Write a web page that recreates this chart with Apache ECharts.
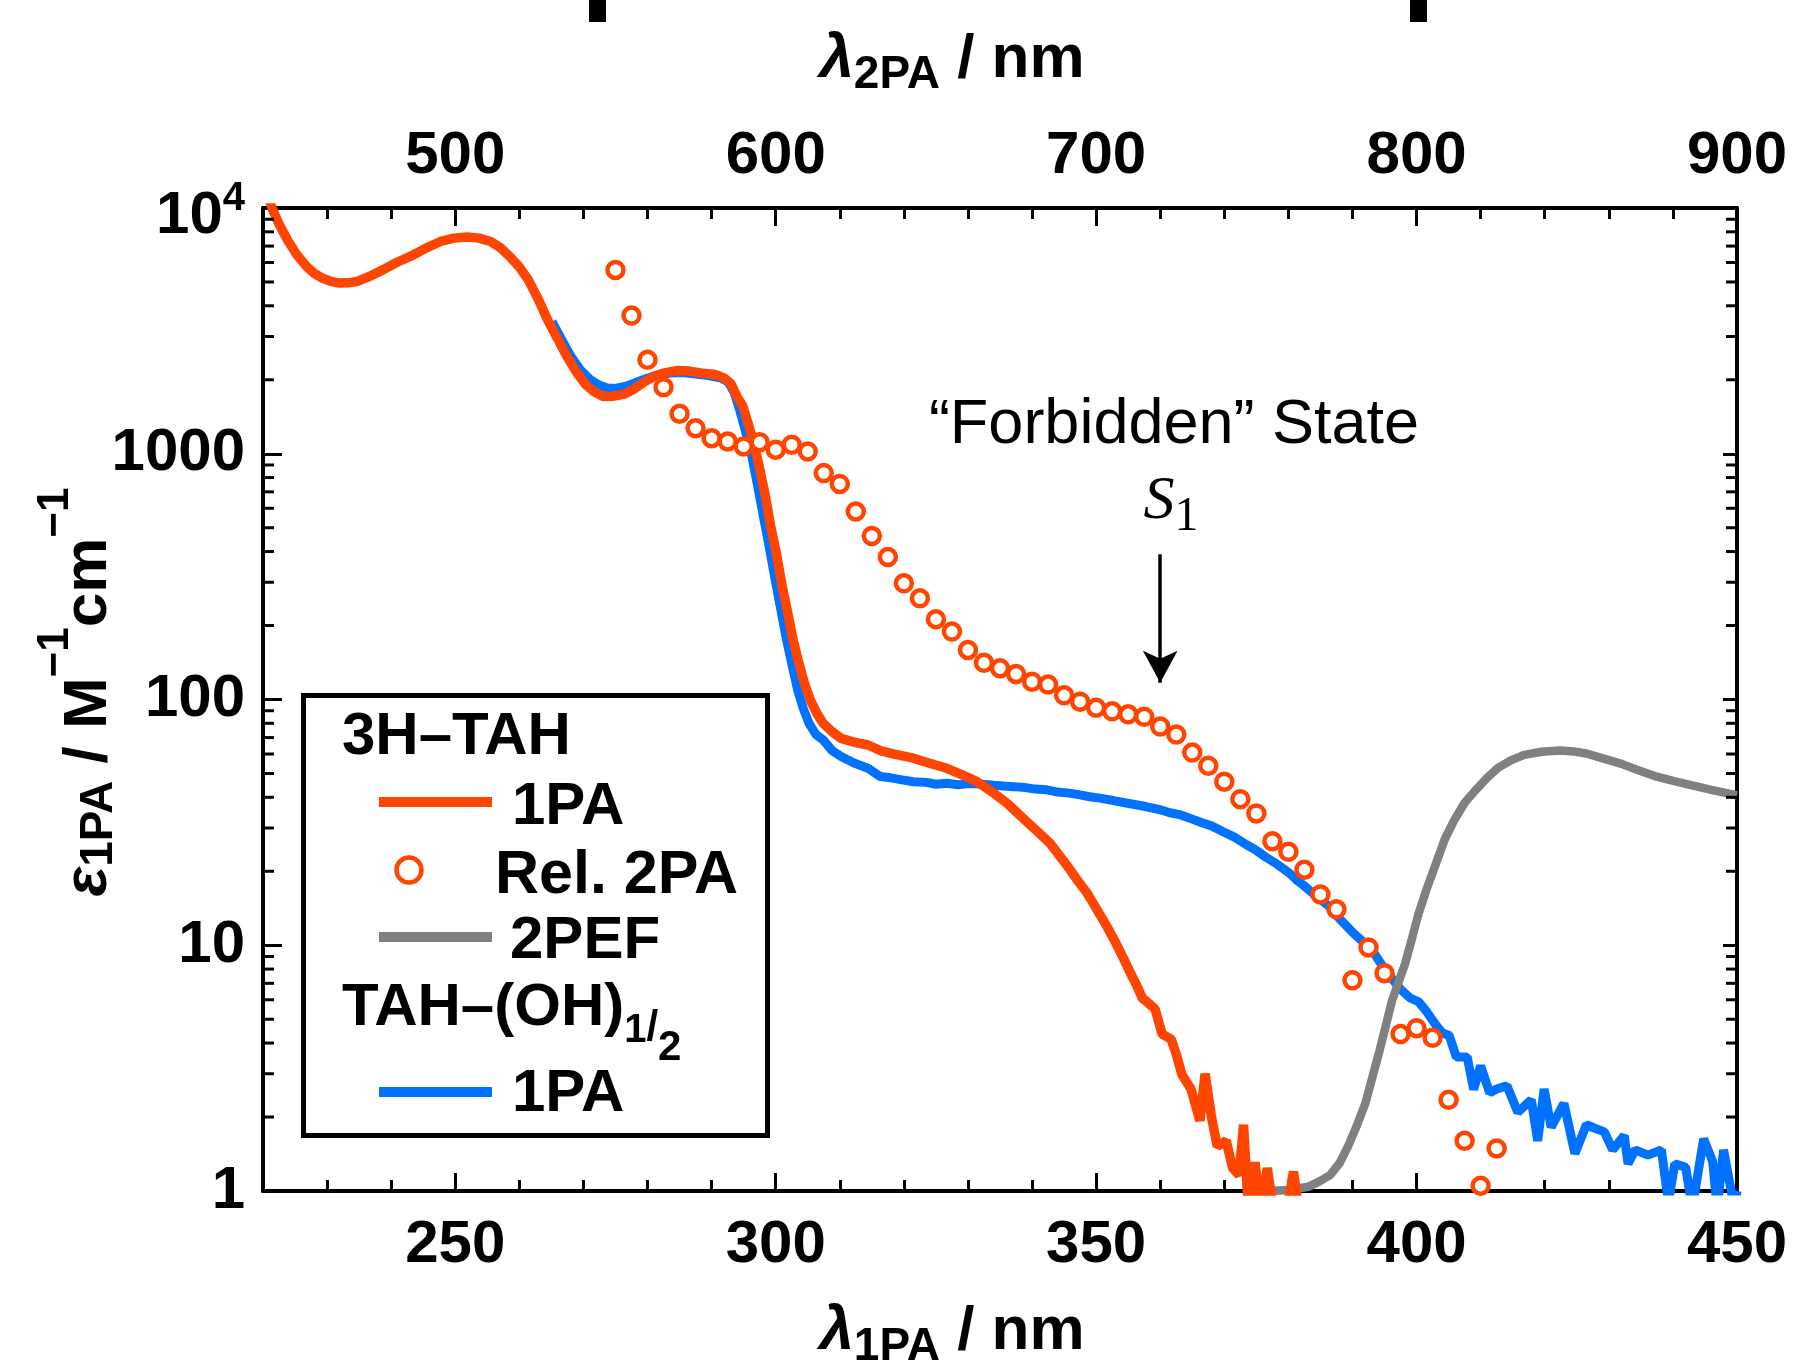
<!DOCTYPE html>
<html><head><meta charset="utf-8">
<script src="https://cdn.jsdelivr.net/npm/echarts@6/dist/echarts.min.js"></script>
<style>html,body{margin:0;padding:0;background:#fff}#c{width:1794px;height:1367px}</style>
</head><body><div id="c"></div>
<script>
// ---- data (x in 1PA wavelength, nm) ----
const red1PA = [
[221.0,10800],[221.4,10000],[222.5,8600],[223.8,7430],[225.2,6500],[226.8,5780],[228.0,5420],[229.2,5190],
[230.5,5040],[231.9,4950],[233.2,4960],[234.6,5020],[236.5,5250],[238.7,5600],[241.0,6030],[243.5,6450],
[245.5,6880],[247.7,7310],[249.8,7540],[251.9,7620],[253.7,7540],[255.5,7310],[257.0,6900],[258.5,6350],
[260.0,5750],[261.4,5100],[262.9,4280],[264.4,3510],[265.9,2960],[267.4,2490],[268.9,2150],[270.4,1906],
[271.8,1780],[273.1,1710],[274.7,1715],[276.4,1750],[278.0,1840],[279.5,1960],[281.0,2060],[282.5,2130],
[284.5,2180],[286.5,2170],[288.3,2130],[290.5,2100],[292.0,2030],[293.0,1930],[294.0,1700],[294.9,1556],
[295.8,1300],[296.6,1104],[297.5,870],[298.4,670],[299.2,510],[300.1,394],[301.0,290],[301.9,224],
[302.7,175],[303.6,141],[304.5,116],[305.4,99.6],[306.4,88],[307.4,80],[308.8,74],[310.2,69.5],
[312.3,67],[314.4,65.3],[316.3,62],[318.5,60],[321.5,57.7],[324.0,55],[326.7,52.5],[329.0,49.5],
[331.4,46.3],[333.8,42],[336.1,37.8],[337.9,34.2],[339.7,30.9],[341.3,28.3],[342.8,26],[344.1,23.5],
[345.4,21.2],[347.0,18.5],[348.6,16.3],[350.1,14],[351.7,11.9],[353.0,10.3],[354.3,8.8],[355.5,7.57],
[356.4,6.8],[357.2,6.1],[358.2,5.8],[359.2,5.5],[360.3,4.35],[361.7,4.15],[362.5,3.6],[363.4,2.97],
[364.8,2.6],[366.2,1.93],[367.0,3.0],[368.0,2.0],[368.9,1.52],[370.3,1.6],[371.3,1.24],[372.3,1.16],
[373.0,1.86],[373.8,0.8],[374.8,1.31],[375.7,0.8],[376.7,1.24],[377.8,0.8],[379.0,0.85],[380.0,0.9],
[380.8,1.2],[381.7,0.8]
];
const blue1PA = [
[265.1,3450],[266.5,2950],[268.0,2500],[269.5,2200],[271.0,2010],[272.5,1900],[273.7,1850],[275.0,1845],
[276.5,1880],[278.0,1940],[279.7,2020],[281.5,2090],[283.5,2130],[285.5,2140],[287.5,2110],[289.5,2080],
[291.5,2030],[292.6,1960],[293.5,1780],[294.4,1500],[295.3,1230],[296.2,1000],[297.1,760],[298.0,570],
[298.9,430],[299.8,320],[300.7,240],[301.6,180],[302.5,140],[303.4,110],[304.3,92],[305.2,80],
[306.3,72],[307.4,68.5],[308.8,62],[310.2,58.6],[312.3,55],[314.4,52.5],[316.3,48.6],[318.0,48.0],
[319.5,47.2],[321.5,46.3],[323.5,46.0],[325.0,45.2],[326.7,45.6],[328.5,45.0],[330.0,45.5],[331.9,45.3],
[334.0,44.8],[335.5,44.5],[337.1,44.2],[339.0,43.8],[340.5,43.2],[342.3,42.9],[344.0,42.0],[345.8,41.6],
[347.5,40.9],[349.0,40.2],[350.6,39.7],[352.7,38.8],[354.5,38.0],[356.0,37.4],[357.9,36.6],[360.0,35.6],
[361.5,34.6],[363.2,33.9],[365.0,32.6],[366.5,31.5],[368.0,30.6],[369.9,28.9],[371.5,27.6],[373.4,25.7],
[375.0,24.3],[376.5,22.8],[378.2,21.4],[380.0,19.8],[381.2,18.5],[382.4,17.5],[384.0,16.1],[385.2,15.2],
[386.5,14.3],[388.0,12.8],[390.0,11.3],[391.5,10.4],[392.5,9.8],[393.4,9.25],[395.0,8.0],[396.2,7.3],
[397.5,6.62],[399.0,6.1],[400.3,5.89],[401.5,5.4],[403.0,4.74],[404.0,4.4],[405.1,4.29],[406.2,3.51],
[407.9,3.51],[408.9,2.59],[410.0,3.23],[411.4,2.51],[412.5,2.6],[414.1,2.68],[415.8,2.09],[417.9,2.35],
[418.9,1.6],[419.9,2.6],[421.0,1.82],[423.0,2.27],[424.7,1.42],[426.5,1.86],[427.8,1.8],[429.3,1.74],
[430.6,1.47],[432.4,1.68],[433.0,1.29],[434.1,1.47],[436.1,1.4],[438.2,1.47],[439.3,0.9],[440.3,1.29],
[442.0,1.25],[443.0,0.85],[444.8,1.63],[446.2,1.32],[446.9,0.85],[447.9,1.47],[449.6,0.85],[450.0,1.0]
];
const gray2PEF = [
[377.2,1.0],[380.0,1.01],[383.1,1.04],[385.0,1.1],[386.5,1.16],[388.0,1.3],[389.3,1.52],[390.7,1.85],
[392.0,2.27],[393.1,2.9],[394.1,3.62],[395.2,4.7],[396.2,5.98],[397.2,7.1],[398.2,8.4],[399.3,10.7],
[400.3,13.4],[401.6,17.0],[403.0,21.4],[404.4,27.0],[405.8,32],[407.5,38],[409.3,43],[411.0,48],
[412.7,52.7],[414.7,56.5],[416.8,59.5],[419.5,61.3],[422.4,62],[424.5,61.5],[426.5,60.3],[429.2,57.5],
[432.0,54.7],[434.8,51.3],[437.5,48.5],[440.2,46.5],[443.0,44.7],[446.0,42.9],[449.5,41],[450.0,40.8]
];
const rel2PA_x = [275,277.5,280,282.5,285,287.5,290,292.5,295,297.5,300,302.5,305,307.5,310,312.5,315,317.5,
320,322.5,325,327.5,330,332.5,335,337.5,340,342.5,345,347.5,350,352.5,355,357.5,360,362.5,365,367.5,
370,372.5,375,377.5,380,382.5,385,387.5,390,392.5,395,397.5,400,402.5,405,407.5,410,412.5];
const rel2PA_y = [5600,3650,2410,1866,1455,1270,1156,1122,1070,1115,1038,1087,1021,834,754,582,463,380,
297,258,212,189,159,141,134,127,118,115,104,98,92.6,89.5,87,85,77.6,72,60.8,53.7,
46.3,39.3,34.4,26.5,24,20.3,16.1,14,7.2,9.8,7.7,4.35,4.6,4.2,2.35,1.6,1.05,1.49];
const bottomLabels = [250,300,350,400,450];
const bottomMinor = [230,240,260,270,280,290,310,320,330,340,360,370,380,390,410,420,430,440];
const topLabels = [500,600,700,800,900];
const topMinor = [460,480,520,540,560,580,620,640,660,680,720,740,760,780,820,840,860,880];
const yMinor = [2,3,4,5,6,7,8,9,20,30,40,50,60,70,80,90,200,300,400,500,600,700,800,900,2000,3000,4000,5000,6000,7000,8000,9000];
const arrowFrom = [360, 390], arrowTo = [360, 117];

const FF = '"Liberation Sans", Arial, sans-serif';
const RED = '#FF4500', BLUE = '#0072FF', GRAY = '#808080';
const chart = echarts.init(document.getElementById('c'), null, {renderer: 'canvas'});

const lblStyle = {color:'#000', fontSize:60, fontWeight:'bold', fontFamily:FF};
function xAx(extra){ return Object.assign({type:'value', splitLine:{show:false}, axisLine:{show:false}}, extra); }
// rich token helper: top aligned, vertical offset through top padding
function tk(size, pt, extra){
  return Object.assign({fontSize:size, fontWeight:'bold', fontFamily:FF, verticalAlign:'top', padding:[pt,0,0,0], color:'#000', fill:'#000'}, extra||{});
}

const option = {
  animation:false,
  backgroundColor:'#fff',
  grid:{left:263, right:57, top:208, bottom:176, show:false},
  xAxis:[
    xAx({min:220, max:450, position:'bottom',
      axisLine:{show:true, onZero:false, lineStyle:{color:'#000', width:4}},
      axisTick:{show:true, inside:true, length:18, lineStyle:{color:'#000', width:3}, customValues:bottomLabels},
      axisLabel:Object.assign({margin:24, customValues:bottomLabels, showMaxLabel:true}, lblStyle)}),
    xAx({min:220, max:450, position:'bottom',
      axisTick:{show:true, inside:true, length:11, lineStyle:{color:'#000', width:3}, customValues:bottomMinor},
      axisLabel:{show:false}}),
    xAx({min:440, max:900, position:'top',
      axisLine:{show:true, onZero:false, lineStyle:{color:'#000', width:4}},
      axisTick:{show:true, inside:true, length:18, lineStyle:{color:'#000', width:3}, customValues:topLabels},
      axisLabel:Object.assign({margin:22, customValues:topLabels, showMaxLabel:true}, lblStyle)}),
    xAx({min:440, max:900, position:'top',
      axisTick:{show:true, inside:true, length:11, lineStyle:{color:'#000', width:3}, customValues:topMinor},
      axisLabel:{show:false}})
  ],
  yAxis:[
    {type:'log', logBase:10, min:1, max:10000, position:'left', splitLine:{show:false},
      axisLine:{show:true, onZero:false, lineStyle:{color:'#000', width:4}},
      axisTick:{show:true, inside:true, length:19, lineStyle:{color:'#000', width:3}},
      axisLabel:{margin:18, formatter:v => v >= 9999 ? '{c|10}{p|4}' : '{b|' + Math.round(v) + '}',
        rich:{b:tk(60, 0), c:tk(60, 16), p:tk(40, 9)}}},
    {type:'log', logBase:10, min:1, max:10000, position:'right', splitLine:{show:false},
      axisLine:{show:true, onZero:false, lineStyle:{color:'#000', width:4}},
      axisTick:{show:true, inside:true, length:14, lineStyle:{color:'#000', width:3}},
      axisLabel:{show:false}}
  ],
  series:[
    {type:'custom', name:'minorY', silent:true, xAxisIndex:0, yAxisIndex:0, z:10,
      data:yMinor.map(v => [220, v]),
      renderItem:(params, api) => {
        const v = api.value(1);
        const pl = api.coord([220, v]);
        const pr = api.coord([450, v]);
        return {type:'group', children:[
          {type:'line', shape:{x1:pl[0], y1:pl[1], x2:pl[0]+11, y2:pl[1]}, style:{stroke:'#000', lineWidth:3}},
          {type:'line', shape:{x1:pr[0]-11, y1:pr[1], x2:pr[0], y2:pr[1]}, style:{stroke:'#000', lineWidth:3}}
        ]};
      }},
    {type:'line', name:'TAH-(OH) 1PA', data:blue1PA, xAxisIndex:0, yAxisIndex:0, showSymbol:false, clip:true,
      lineStyle:{color:BLUE, width:9}, z:2},
    {type:'line', name:'2PEF', data:gray2PEF, xAxisIndex:0, yAxisIndex:0, showSymbol:false, clip:true,
      lineStyle:{color:GRAY, width:8.5}, z:3},
    {type:'line', name:'3H-TAH 1PA', data:red1PA, xAxisIndex:0, yAxisIndex:0, showSymbol:false, clip:true,
      lineStyle:{color:RED, width:9.5}, z:4},
    {type:'scatter', name:'Rel. 2PA', data:rel2PA_x.map((x,i) => [x, rel2PA_y[i]]), xAxisIndex:0, yAxisIndex:0,
      symbol:'circle', symbolSize:16, itemStyle:{color:'#fff', borderColor:RED, borderWidth:4.5, opacity:1}, z:5, clip:true,
      markLine:{silent:true, symbol:['none','arrow'], symbolSize:[26,32], label:{show:false},
        lineStyle:{color:'#000', width:3.5, type:'solid'},
        data:[[{coord:arrowFrom}, {coord:arrowTo}]]}}
  ],
  graphic:[
    // cut-off bars from panel above
    {type:'rect', shape:{x:589, y:0, width:17, height:22}, style:{fill:'#000'}},
    {type:'rect', shape:{x:1410, y:0, width:17, height:22}, style:{fill:'#000'}},
    // axis titles
    {type:'text', x:952, y:29, style:{text:'{l|λ}{s|2PA}{n| / nm}', textAlign:'center', textVerticalAlign:'top',
      rich:{l:tk(62, 0, {fontStyle:'italic'}), s:tk(46, 23), n:tk(62, 0)}}},
    {type:'text', x:952, y:1301, style:{text:'{l|λ}{s|1PA}{n| / nm}', textAlign:'center', textVerticalAlign:'top',
      rich:{l:tk(62, 0, {fontStyle:'italic'}), s:tk(46, 23), n:tk(62, 0)}}},
    {type:'text', x:34, y:692, rotation:Math.PI/2, style:{text:'{e|ε}{s|1PA}{n| / M}{p|−1}{n|cm}{p|−1}', textAlign:'center', textVerticalAlign:'top',
      rich:{e:tk(62, 24, {fontStyle:'italic'}), s:tk(46, 42), n:tk(62, 24), p:tk(44, 0)}}},
    // annotation
    {type:'text', x:1174, y:426, style:{text:'“Forbidden” State', textAlign:'center', textVerticalAlign:'middle',
      font:'normal 63px ' + FF, fill:'#000'}},
    {type:'text', x:1171, y:471, style:{text:'{s|S}{n|1}', textAlign:'center', textVerticalAlign:'top',
      rich:{s:tk(62, 0, {fontWeight:'normal', fontStyle:'italic', fontFamily:'"Liberation Serif", serif'}),
            n:tk(48, 22, {fontWeight:'normal', fontFamily:'"Liberation Serif", serif'})}}},
    // legend
    {type:'rect', shape:{x:303.5, y:695.5, width:464, height:440}, style:{fill:'#fff', stroke:'#000', lineWidth:5}, z:20},
    {type:'text', x:342, y:737, z:21, style:{text:'3H–TAH', textAlign:'left', textVerticalAlign:'middle', font:'bold 60px ' + FF, fill:'#000'}},
    {type:'line', z:21, shape:{x1:379, y1:802, x2:492, y2:802}, style:{stroke:RED, lineWidth:10}},
    {type:'text', x:512, y:807, z:21, style:{text:'1PA', textAlign:'left', textVerticalAlign:'middle', font:'bold 60px ' + FF, fill:'#000'}},
    {type:'circle', z:21, shape:{cx:409, cy:870, r:12.5}, style:{fill:'#fff', stroke:RED, lineWidth:4.5}},
    {type:'text', x:495, y:876, z:21, style:{text:'Rel. 2PA', textAlign:'left', textVerticalAlign:'middle', font:'bold 61px ' + FF, fill:'#000'}},
    {type:'line', z:21, shape:{x1:379, y1:937, x2:492, y2:937}, style:{stroke:GRAY, lineWidth:10}},
    {type:'text', x:510, y:941, z:21, style:{text:'2PEF', textAlign:'left', textVerticalAlign:'middle', font:'bold 60px ' + FF, fill:'#000'}},
    {type:'text', x:342, y:978, z:21, style:{text:'{m|TAH–(OH)}{a|1}{s|/}{b|2}', textAlign:'left', textVerticalAlign:'top',
      rich:{m:tk(60, 0), a:tk(40, 33), s:tk(42, 29), b:tk(42, 49)}}},
    {type:'line', z:21, shape:{x1:379, y1:1092, x2:492, y2:1092}, style:{stroke:BLUE, lineWidth:10}},
    {type:'text', x:512, y:1094, z:21, style:{text:'1PA', textAlign:'left', textVerticalAlign:'middle', font:'bold 60px ' + FF, fill:'#000'}}
  ]
};
chart.setOption(option);
</script></body></html>
